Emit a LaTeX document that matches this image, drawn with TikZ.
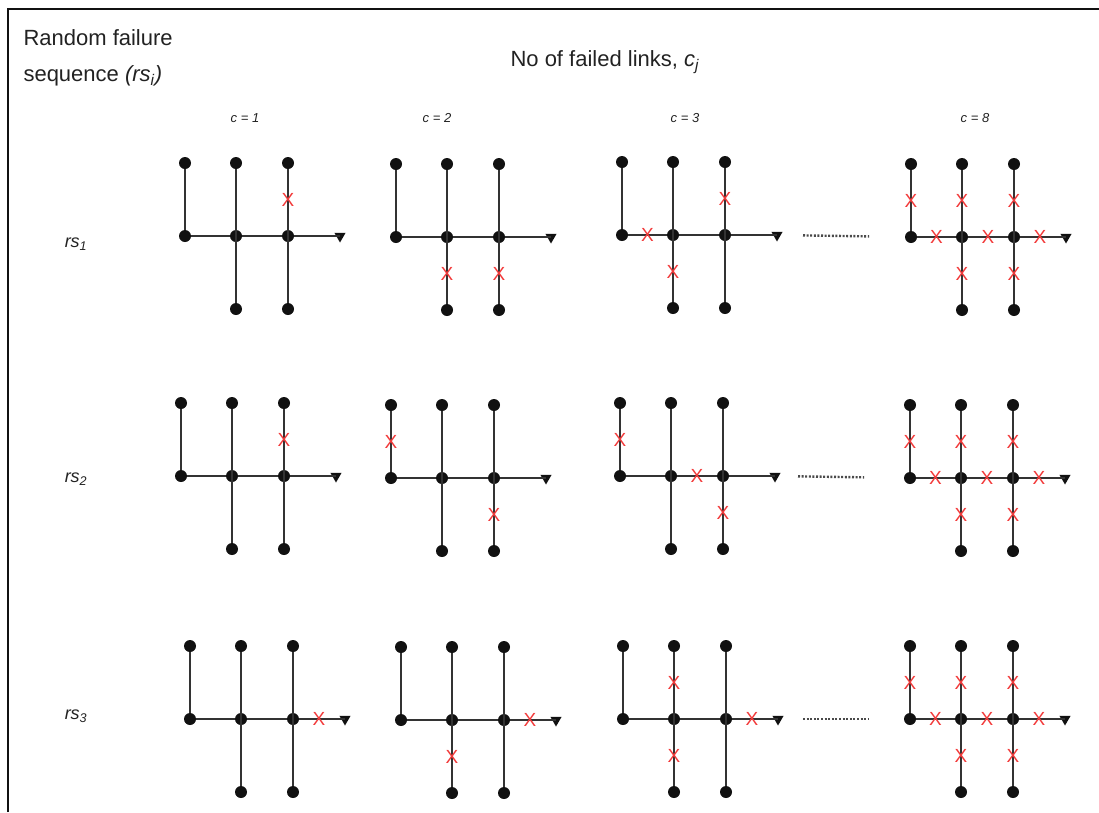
\documentclass[tikz,border=0pt]{standalone}
\usepackage{fontspec}
\setmainfont{Liberation Sans}
\usepackage{xcolor}
\usetikzlibrary{positioning,calc,shapes.geometric}
\definecolor{Ink}{HTML}{111111}
\definecolor{Wire}{HTML}{333333}
\definecolor{Fail}{HTML}{F23A3A}
\definecolor{Dots}{HTML}{4A4A4A}
\definecolor{Label}{HTML}{222222}

\tikzset{
  hub/.style={circle, fill=Ink, inner sep=0pt, minimum size=12pt},
  sink/.style={regular polygon, regular polygon sides=3, shape border rotate=180,
    fill=Ink, inner sep=0pt, minimum size=13pt},
  wire/.style={draw=Wire, line width=2.2pt},
  fail/.style={text=Fail, inner sep=0pt, font=\fontsize{19}{19}\selectfont},
  gap/.style={draw=Dots, line width=2.4pt, dash pattern=on 2pt off 1.6pt},
  rowlab/.style={text=Label, font=\fontsize{18}{18}\selectfont\itshape},
  colhead/.style={text=Label, font=\fontsize{13}{13}\selectfont\itshape}
}

% one network: name, x, y of the left node, failed links
\newcommand{\failnet}[4]{%
  \node[hub] (#1L) at (#2,#3) {};
  \node[hub, right=51pt of #1L] (#1M1) {};
  \node[hub, right=52pt of #1M1] (#1M2) {};
  \node[sink, right=52pt of #1M2] (#1E) {};
  \node[hub, above=73pt of #1L] (#1T0) {};
  \node[hub, above=73pt of #1M1] (#1T1) {};
  \node[hub, above=73pt of #1M2] (#1T2) {};
  \node[hub, below=73pt of #1M1] (#1B1) {};
  \node[hub, below=73pt of #1M2] (#1B2) {};
  \draw[wire] (#1T0) -- (#1L) -- (#1M1) -- (#1M2) -- (#1E.center);
  \draw[wire] (#1T1) -- (#1B1);
  \draw[wire] (#1T2) -- (#1B2);
  \foreach \u/\v in {#4}
    \node[fail] (#1x\u\v) at ($(#1\u)!.5!(#1\v)$) {X};
}

\begin{document}
\begin{tikzpicture}[x=1pt, y=-1pt, on grid]
  \useasboundingbox (0,0) rectangle (1099,812);
  \draw[Ink, line width=1.5pt] (8,812) -- (8,9) -- (1099,9);

  % headings
  \node[anchor=north west, align=left, text=Label, font=\fontsize{22}{36}\selectfont] (seq) at (20,26)
    {Random failure\\sequence \textit{(rs}\textsubscript{\textit{i}}\textit{)}};
  \node[text=Label, font=\fontsize{22}{22}\selectfont] (links) at (605,62)
    {No of failed links, \textit{c}\textsubscript{\textit{j}}};
  \node[colhead] (c1) at (245,118) {c = 1};
  \node[colhead] (c2) at (437,118) {c = 2};
  \node[colhead] (c3) at (685,118) {c = 3};
  \node[colhead] (c8) at (975,118) {c = 8};
  \node[rowlab] (rs1) at (76,244) {rs\textsubscript{1}};
  \node[rowlab] (rs2) at (76,479) {rs\textsubscript{2}};
  \node[rowlab] (rs3) at (76,716) {rs\textsubscript{3}};

  % row 1
  \failnet{ra}{185}{236}{T2/M2}
  \failnet{rb}{396}{237}{M1/B1, M2/B2}
  \failnet{rc}{622}{235}{L/M1, M1/B1, T2/M2}
  \failnet{rd}{911}{237}{T0/L, L/M1, T1/M1, M1/B1, M1/M2, T2/M2, M2/B2, M2/E}
  % row 2
  \failnet{sa}{181}{476}{T2/M2}
  \failnet{sb}{391}{478}{T0/L, M2/B2}
  \failnet{sc}{620}{476}{T0/L, M1/M2, M2/B2}
  \failnet{sd}{910}{478}{T0/L, L/M1, T1/M1, M1/B1, M1/M2, T2/M2, M2/B2, M2/E}
  % row 3
  \failnet{ta}{190}{719}{M2/E}
  \failnet{tb}{401}{720}{M1/B1, M2/E}
  \failnet{tc}{623}{719}{T1/M1, M1/B1, M2/E}
  \failnet{td}{910}{719}{T0/L, L/M1, T1/M1, M1/B1, M1/M2, T2/M2, M2/B2, M2/E}

  % skipped counts
  \draw[gap, shorten <=26pt, shorten >=42pt] (rcE.center) -- (rdL.center);
  \draw[gap, shorten <=23pt, shorten >=46pt] (scE.center) -- (sdL.center);
  \draw[gap, shorten <=25pt, shorten >=41pt] (tcE.center) -- (tdL.center);
\end{tikzpicture}
\end{document}
